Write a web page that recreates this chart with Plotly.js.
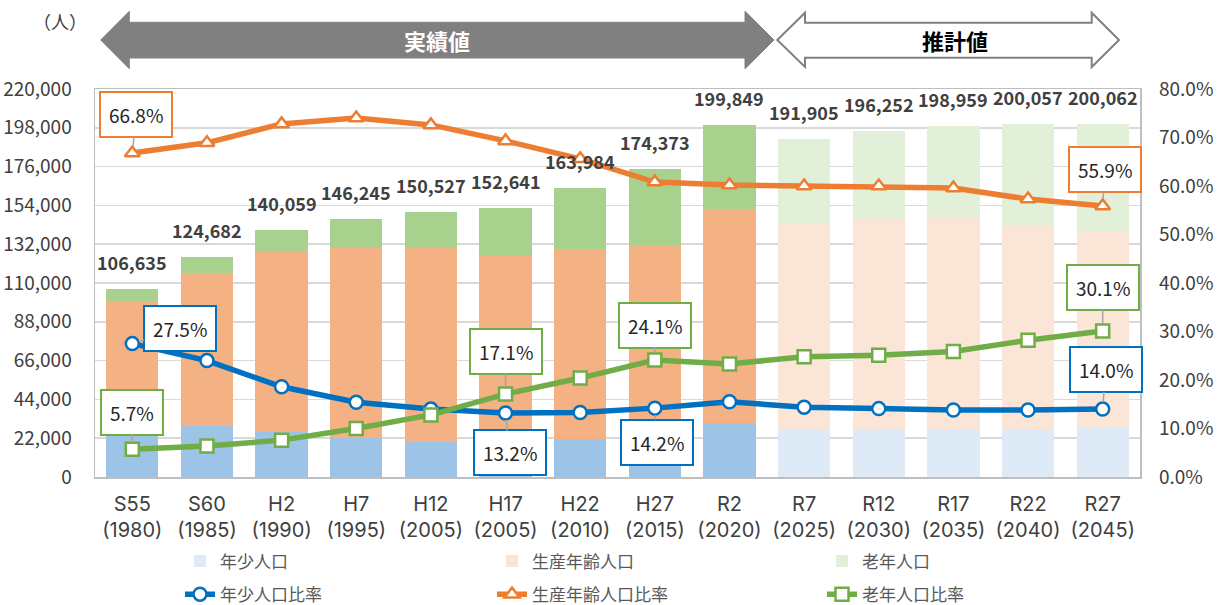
<!DOCTYPE html>
<html>
<head>
<meta charset="utf-8">
<script src="https://cdn.plot.ly/plotly-3.0.1.min.js"></script>
<style>html,body{margin:0;padding:0;background:#fff;}#chart{width:1218px;height:605px;}</style>
</head>
<body>
<div id="chart"></div>
<script>
// ---- data ----
const categories = ['S55<br>(1980)','S60<br>(1985)','H2<br>(1990)','H7<br>(1995)','H12<br>(2005)','H17<br>(2005)','H22<br>(2010)','H27<br>(2015)','R2<br>(2020)','R7<br>(2025)','R12<br>(2030)','R17<br>(2035)','R22<br>(2040)','R27<br>(2045)'];
const young      = [29300, 29100, 25700, 21900, 20000, 20100, 21400, 24800, 30800, 27400, 27500, 27400, 27500, 27800];
const production = [70500, 86400, 102000, 108700, 110000, 105400, 107700, 106200, 121100, 115800, 118600, 119300, 115400, 111300];
const elderly    = [6835, 9182, 12359, 15645, 20527, 27141, 34884, 43373, 47949, 48705, 50152, 52259, 57157, 60962];
const totals     = [106635, 124682, 140059, 146245, 150527, 152641, 163984, 174373, 199849, 191905, 196252, 198959, 200057, 200062];
const youngRatio = [0.275, 0.240, 0.186, 0.154, 0.140, 0.132, 0.133, 0.142, 0.155, 0.144, 0.141, 0.138, 0.138, 0.140];
const prodRatio  = [0.668, 0.689, 0.728, 0.740, 0.726, 0.693, 0.656, 0.608, 0.602, 0.600, 0.600, 0.596, 0.573, 0.559];
const oldRatio   = [0.057, 0.064, 0.076, 0.100, 0.128, 0.171, 0.204, 0.241, 0.233, 0.248, 0.251, 0.259, 0.282, 0.301];
const nActual = 9; // first 9 periods are actual (実績値), rest projection (推計値)
const seriesNames = ['年少人口','生産年齢人口','老年人口'];
const ratioNames = ['年少人口比率','生産年齢人口比率','老年人口比率'];
const labeledYoung = [0, 5, 7, 13];
const labeledProd = [0, 13];
const labeledOld = [0, 5, 7, 13];

// ---- styles ----
const darkCols = ['#9DC3E6','#F4B183','#A9D18E'];
const lightCols = ['#DEEBF7','#FBE5D6','#E2F0D9'];
const lineCols = ['#0070C0','#ED7D31','#70AD47'];
const symbols = ['circle','triangle-up','square'];
const legendIds = ['legend','legend2','legend3'];
const FONT = '"Noto Sans CJK JP", "Noto Sans", sans-serif';
const W = 1218, H = 605;

function part(arr, actual){ return arr.map((v,i)=> ((i < nActual) === actual) ? v : null); }

const barData = [young, production, elderly];
const traces = [];
barData.forEach((arr, k) => {
  traces.push({type:'bar', name:seriesNames[k], x:categories, y:part(arr,true),
    marker:{color:darkCols[k]}, showlegend:false, hoverinfo:'skip'});
  traces.push({type:'bar', name:seriesNames[k], x:categories, y:part(arr,false),
    marker:{color:lightCols[k]}, legend:legendIds[k], legendgroup:'b'+k, hoverinfo:'skip'});
});
[youngRatio, prodRatio, oldRatio].forEach((arr, k) => {
  traces.push({type:'scatter', mode:'lines+markers', name:ratioNames[k], x:categories, y:arr, yaxis:'y2',
    line:{color:lineCols[k], width:5.5},
    marker:{symbol:symbols[k], size:13, color:'#FFFFFF', line:{color:lineCols[k], width:2.5}},
    legend:legendIds[k], legendgroup:'l'+k, hoverinfo:'skip'});
});

// pixel -> paper helpers (margins are zero, so paper == whole figure)
const px = x => x / W;
const py = y => 1 - y / H;
function pathOf(pts){ return 'M' + pts.map(p => px(p[0]).toFixed(5)+','+py(p[1]).toFixed(5)).join(' L') + ' Z'; }

const arrow1 = pathOf([[100.7,40],[129.3,11.3],[129.3,22.3],[745,22.3],[745,11.3],[774,40],[745,68.7],[745,58],[129.3,58],[129.3,68.7]]);
const arrow2 = pathOf([[777.3,40],[805,12.7],[805,22.7],[1091.7,22.7],[1091.7,12.7],[1119,40],[1091.7,67],[1091.7,57.7],[805,57.7],[805,67]]);

const annotations = [];
// totals above bars
totals.forEach((t,i) => {
  annotations.push({x:categories[i], y:t, xref:'x', yref:'y', text:'<b>'+t.toLocaleString('en-US')+'</b>',
    showarrow:false, yshift:27, xanchor:'center', yanchor:'middle', font:{size:18, color:'#404040', family:FONT}});
});
// ratio data labels
const labelOffsets = {
  y:{0:[48,-15], 5:[4,40], 7:[2,34], 13:[3,-40]},
  p:{0:[4,-39], 13:[2,-36]},
  o:{0:[0,-37], 5:[0,-43], 7:[0,-35], 13:[0,-44]}
};
function addLabels(arr, idxs, col, offs){
  idxs.forEach(i => {
    annotations.push({x:categories[i], y:arr[i], xref:'x', yref:'y2',
      text:(arr[i]*100).toFixed(1)+'%', showarrow:true, arrowhead:0, arrowwidth:1.5, arrowcolor:'#A6A6A6',
      ax:offs[i][0], ay:offs[i][1], standoff:7,
      bordercolor:col, borderwidth:2, borderpad:8, bgcolor:'#FFFFFF',
      font:{size:19, color:'#262626', family:FONT}});
  });
}
addLabels(youngRatio, labeledYoung, lineCols[0], labelOffsets.y);
addLabels(prodRatio, labeledProd, lineCols[1], labelOffsets.p);
addLabels(oldRatio, labeledOld, lineCols[2], labelOffsets.o);
// header arrows text
annotations.push({xref:'paper', yref:'paper', x:px(437), y:py(40), xanchor:'center', yanchor:'middle',
  text:'<b>実績値</b>', showarrow:false, font:{size:22, color:'#FFFFFF', family:FONT}});
annotations.push({xref:'paper', yref:'paper', x:px(955), y:py(40), xanchor:'center', yanchor:'middle',
  text:'<b>推計値</b>', showarrow:false, font:{size:22, color:'#000000', family:FONT}});
annotations.push({xref:'paper', yref:'paper', x:px(60), y:py(21), xanchor:'center', yanchor:'middle',
  text:'（人）', showarrow:false, font:{size:18, color:'#404040', family:FONT}});

const legendBase = {orientation:'v', xanchor:'left', yanchor:'top', y:py(543.5), bgcolor:'rgba(0,0,0,0)',
  font:{size:17, color:'#595959', family:FONT}, tracegroupgap:8, traceorder:'grouped'};

const layout = {
  width:W, height:H,
  margin:{l:0, r:0, t:0, b:0, pad:0, autoexpand:false},
  paper_bgcolor:'#FFFFFF', plot_bgcolor:'#FFFFFF',
  font:{family:FONT, color:'#404040'},
  barmode:'stack', bargap:0.3,
  xaxis:{type:'category', domain:[px(95), px(1140)], range:[-0.5, categories.length - 0.5], autorange:false,
    tickfont:{size:20, color:'#404040', family:'Inter, "Noto Sans CJK JP", sans-serif'}, showline:true,
    linecolor:'#BFBFBF', linewidth:1.5, mirror:true, ticks:'', showgrid:false, ticklabelstandoff:8, automargin:false},
  yaxis:{domain:[py(477), py(89)], range:[0,220000], autorange:false, dtick:22000, tickformat:',', tickfont:{size:19, color:'#404040'},
    gridcolor:'#D9D9D9', gridwidth:1.5, showline:true, linecolor:'#BFBFBF', linewidth:1.5, mirror:true,
    zeroline:false, ticks:'', ticklabelstandoff:18, automargin:false},
  yaxis2:{overlaying:'y', side:'right', range:[0,0.8], autorange:false, dtick:0.1, tickformat:'.1%', showgrid:false,
    tickfont:{size:19, color:'#404040'}, zeroline:false, ticks:'', showline:false, ticklabelstandoff:18, automargin:false},
  legend: Object.assign({}, legendBase, {x:px(180)}),
  legend2: Object.assign({}, legendBase, {x:px(492)}),
  legend3: Object.assign({}, legendBase, {x:px(822)}),
  shapes:[
    {type:'path', xref:'paper', yref:'paper', path:arrow1, fillcolor:'#808080', line:{color:'#808080', width:1}, layer:'below'},
    {type:'path', xref:'paper', yref:'paper', path:arrow2, fillcolor:'#FFFFFF', line:{color:'#808080', width:2}, layer:'below'}
  ],
  annotations:annotations,
  showlegend:true
};

Plotly.newPlot('chart', traces, layout, {displayModeBar:false, staticPlot:true});
</script>
</body>
</html>
